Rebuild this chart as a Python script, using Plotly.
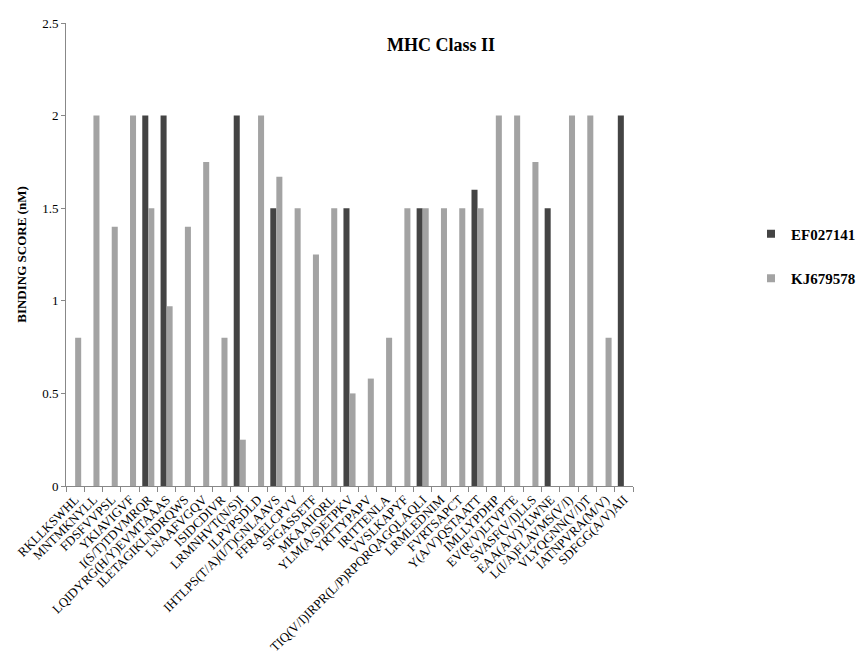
import plotly.graph_objects as go

categories = [
    "RKLLKSWHL", "MNTMKNYLL", "FDSFVVPSL", "YKIAVIGVF", "I(S/T)TDVMRQR",
    "LQIDYRG(H/Y)EVMTAAAS", "ILETAGIKLNDRQWS", "LNAAFVGQV", "ISIDCDIVR",
    "LRMNHVT(N/S)I", "ILPVPSDLD", "IHTLPS(T/A)(I/T)GNLAAVS", "FFRAELCPVV",
    "SFGASSETF", "MKAAIIQRL", "YLM(A/S)ETPKV", "YRTTYPAPV", "IRITTENLA",
    "VVSLKAPYF", "TIQ(V/I)IRPR(L/P)RPQRQAGQLAQLI", "LRMLEDNIM", "FVRTSAPCT",
    "Y(A/V)QSTAATT", "IMLLYPDHP", "EV(R/V)LTVPTE", "SVASF(V/I)LLS",
    "EAA(A/V)YLWNE", "L(I/A)FLAVMS(V/I)", "VLYQGNN(V/I)T", "IATNPVRA(M/V)",
    "SDFGG(A/V)AII",
]
ef027141 = [0, 0, 0, 0, 2, 2, 0, 0, 0, 2, 0, 1.5, 0, 0, 0, 1.5, 0, 0, 0, 1.5,
            0, 0, 1.6, 0, 0, 0, 1.5, 0, 0, 0, 2]
kj679578 = [0.8, 2, 1.4, 2, 1.5, 0.97, 1.4, 1.75, 0.8, 0.25, 2, 1.67, 1.5, 1.25,
            1.5, 0.5, 0.58, 0.8, 1.5, 1.5, 1.5, 1.5, 1.5, 2, 2, 1.75, 0, 2, 2,
            0.8, 0]
series_names = ["EF027141", "KJ679578"]
series_colors = ["#444444", "#a3a3a3"]
y_ticks = [0, 0.5, 1, 1.5, 2, 2.5]

serif = "Liberation Serif, Times New Roman, serif"

fig = go.Figure()
for name, vals, col in zip(series_names, [ef027141, kj679578], series_colors):
    fig.add_trace(go.Bar(x=categories, y=vals, name=name,
                         marker=dict(color=col, line=dict(width=0)),
                         showlegend=False))
# legend entries with small square keys
for name, col in zip(series_names, series_colors):
    fig.add_trace(go.Scatter(x=[None], y=[None], mode="markers", name=f"<b>{name}</b>",
                             marker=dict(symbol="square", size=8, color=col),
                             legendgroup=name, showlegend=True))

fig.update_layout(
    width=866, height=663,
    margin=dict(l=58, r=241, t=15, b=185, autoexpand=False),
    paper_bgcolor="white", plot_bgcolor="white",
    barmode="group", bargap=0.34, bargroupgap=0,
    font=dict(family=serif, color="#000000", size=13),
    title=dict(text="<b>MHC Class II</b>", x=0.5, xref="container", xanchor="center",
               y=1 - 37 / 663, yref="container", yanchor="middle",
               font=dict(size=18, family=serif, color="#000000")),
    showlegend=True,
    legend=dict(x=743 / 866, xref="container", xanchor="left",
                y=1 - 248 / 663, yref="container", yanchor="middle",
                font=dict(size=15, family=serif, color="#000000"),
                tracegroupgap=22, itemwidth=30,
                bgcolor="rgba(0,0,0,0)", traceorder="grouped"),
    xaxis=dict(
        tickangle=-45, tickfont=dict(size=13, family=serif),
        showline=True, linecolor="#888888", linewidth=1,
        ticks="outside", tickson="boundaries", ticklen=5, tickcolor="#888888",
        showgrid=False, automargin=False,
    ),
    yaxis=dict(
        range=[0, 2.5], tickvals=y_ticks, ticktext=["0", "0.5", "1", "1.5", "2", "2.5"],
        tickfont=dict(size=13, family=serif),
        showline=True, linecolor="#888888", linewidth=1,
        ticks="outside", ticklen=4, tickcolor="#888888",
        showgrid=False, zeroline=False, automargin=False,
        title=dict(text="<b>BINDING SCORE (nM)</b>",
                   font=dict(size=13, family=serif), standoff=12),
    ),
)

fig.write_html("out.html")
